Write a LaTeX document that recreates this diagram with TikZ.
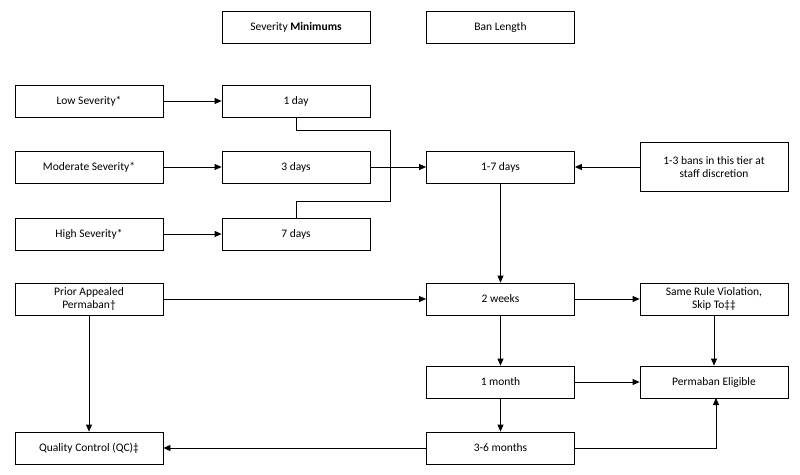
\documentclass[tikz,border=0pt]{standalone}
\usepackage{fontspec}
\setmainfont{Carlito}
\usetikzlibrary{arrows.meta}
\begin{document}
\begin{tikzpicture}[x=1pt,y=-1pt,
  box/.style={draw,line width=0.8pt,minimum width=148pt,minimum height=32pt,inner sep=1pt,align=center,font=\fontsize{11.5}{13}\selectfont},
  ar/.style={line width=0.8pt,-{Triangle[length=7pt,width=6pt]}},
  ln/.style={line width=0.8pt}]
\useasboundingbox (0,0) rectangle (800,474);
\node[box] (sev) at (296,27) {Severity \textbf{Minimums}};
\node[box] (ban) at (500.5,27) {Ban Length};
\node[box] (low) at (89,101) {Low Severity*};
\node[box] (d1) at (296,101) {1 day};
\node[box] (mod) at (89,167) {Moderate Severity*};
\node[box] (d3) at (296,167) {3 days};
\node[box] (d17) at (500.5,167) {1-7 days};
\node[box,minimum height=49pt] (b13) at (714,167) {1-3 bans in this tier at\\staff discretion};
\node[box] (high) at (89,234) {High Severity*};
\node[box] (d7) at (296,234) {7 days};
\node[box] (prior) at (89,299) {Prior Appealed\\Permaban†};
\node[box] (w2) at (500.5,299) {2 weeks};
\node[box] (same) at (714,299) {Same Rule Violation,\\Skip To‡‡};
\node[box] (m1) at (500.5,382) {1 month};
\node[box] (perm) at (714,382) {Permaban Eligible};
\node[box] (qc) at (89,448) {Quality Control (QC)‡};
\node[box] (m36) at (500.5,448) {3-6 months};
\coordinate (j) at (390,167);
\draw[ar] (low) -- (d1);
\draw[ar] (mod) -- (d3);
\draw[ar] (high) -- (d7);
\draw[ln] (d1.south) -- ++(0,13) -| (j);
\draw[ln] (d7.north) -- ++(0,-16) -| (j);
\draw[ar] (d3) -- (d17);
\draw[ar] (b13) -- (d17);
\draw[ar] (d17) -- (w2);
\draw[ar] (prior) -- (w2);
\draw[ar] (prior) -- (qc);
\draw[ar] (w2) -- (same);
\draw[ar] (same) -- (perm);
\draw[ar] (w2) -- (m1);
\draw[ar] (m1) -- (perm);
\draw[ar] (m1) -- (m36);
\draw[ar] (m36) -- (qc);
\draw[ar] (m36.east) -| (716,398);
\end{tikzpicture}
\end{document}
